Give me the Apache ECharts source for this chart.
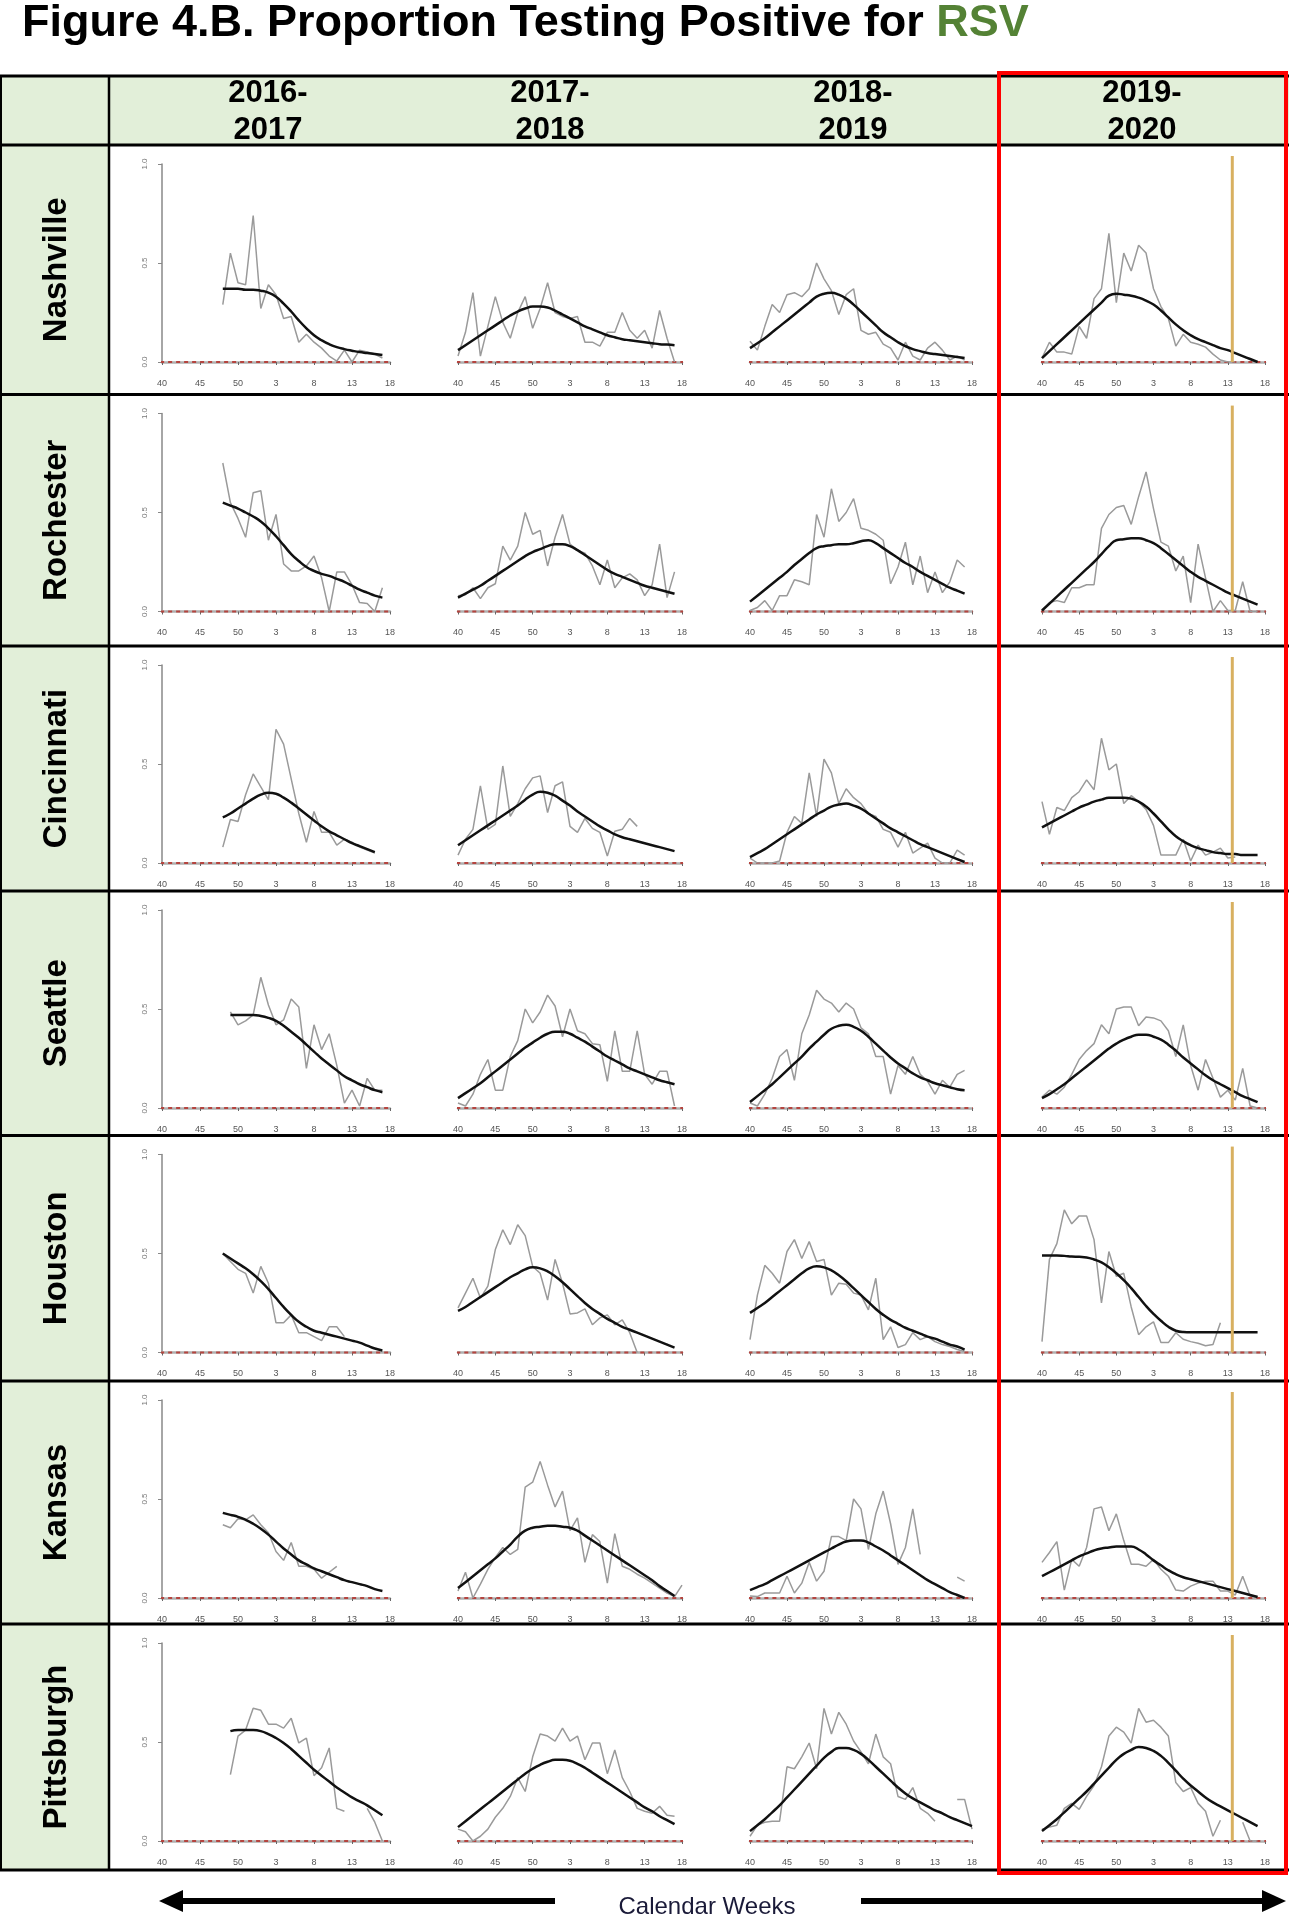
<!DOCTYPE html>
<html><head><meta charset="utf-8">
<script src="https://cdn.jsdelivr.net/npm/echarts@6/dist/echarts.min.js"></script>
<style>html,body{margin:0;padding:0;background:#fff}#c{width:1289px;height:1920px}</style>
</head><body><div id="c"></div>
<script>
// ---------- labels ----------
const weekLabels = ['40','45','50','3','8','13','18'];
const seasonStart = ['2016-','2017-','2018-','2019-'];
const seasonEnd = ['2017','2018','2019','2020'];
const sites = ['Nashville','Rochester','Cincinnati','Seattle','Houston','Kansas','Pittsburgh'];
const cutoffIndex = 25.6; // vertical marker in 2019-2020 season (week index)

// ---------- data: [startWeekIndex, values] per season ----------
const nashvilleRaw = [
  [8,[0.29,0.55,0.40,0.39,0.74,0.27,0.39,0.34,0.22,0.23,0.10,0.14,0.10,0.07,0.03,0.005,0.06,0.0,0.06,0.05,0.04,0.02]],
  [0,[0.03,0.15,0.35,0.03,0.18,0.33,0.20,0.12,0.25,0.33,0.17,0.27,0.40,0.25,0.23,0.22,0.23,0.10,0.10,0.08,0.15,0.15,0.25,0.16,0.12,0.16,0.07,0.26,0.12,0.0]],
  [0,[0.105,0.06,0.18,0.29,0.25,0.34,0.35,0.33,0.37,0.50,0.42,0.36,0.24,0.34,0.37,0.16,0.14,0.15,0.09,0.07,0.01,0.10,0.03,0.01,0.07,0.10,0.06,0.01,0.03,0.01]],
  [0,[0.02,0.10,0.05,0.05,0.04,0.18,0.12,0.32,0.37,0.65,0.30,0.55,0.46,0.59,0.55,0.37,0.28,0.22,0.08,0.14,0.10,0.09,0.075,0.04,0.01,0.0,0.0]]
];
const nashvilleFit = [
  [8,[0.37,0.37,0.37,0.365,0.365,0.36,0.35,0.33,0.295,0.255,0.21,0.17,0.135,0.11,0.09,0.075,0.065,0.057,0.05,0.045,0.04,0.035]],
  [0,[0.06,0.085,0.11,0.135,0.16,0.185,0.21,0.235,0.255,0.27,0.28,0.28,0.275,0.26,0.24,0.22,0.20,0.18,0.165,0.15,0.135,0.125,0.115,0.11,0.105,0.10,0.095,0.09,0.088,0.085]],
  [0,[0.07,0.095,0.12,0.15,0.18,0.21,0.24,0.27,0.30,0.33,0.345,0.35,0.34,0.32,0.29,0.255,0.22,0.185,0.15,0.125,0.10,0.08,0.065,0.055,0.045,0.04,0.035,0.03,0.025,0.02]],
  [0,[0.02,0.055,0.09,0.125,0.16,0.195,0.23,0.265,0.30,0.335,0.345,0.34,0.335,0.325,0.31,0.29,0.26,0.225,0.19,0.16,0.135,0.115,0.10,0.085,0.07,0.06,0.045,0.03,0.015,0.0]]
];
const rochesterRaw = [
  [8,[0.75,0.55,0.47,0.375,0.60,0.61,0.36,0.49,0.24,0.205,0.205,0.23,0.28,0.17,0.0,0.20,0.20,0.135,0.045,0.04,0.0,0.12]],
  [0,[0.08,0.085,0.12,0.065,0.12,0.14,0.33,0.26,0.33,0.50,0.39,0.41,0.23,0.375,0.49,0.34,0.31,0.295,0.23,0.135,0.26,0.12,0.17,0.19,0.16,0.08,0.135,0.34,0.07,0.20]],
  [0,[0.005,0.02,0.055,0.005,0.08,0.08,0.16,0.15,0.135,0.49,0.375,0.62,0.455,0.50,0.57,0.42,0.41,0.39,0.36,0.14,0.225,0.35,0.135,0.28,0.095,0.20,0.095,0.15,0.26,0.225]],
  [0,[0.005,0.045,0.055,0.045,0.12,0.12,0.135,0.135,0.42,0.49,0.525,0.535,0.44,0.58,0.705,0.52,0.35,0.33,0.205,0.28,0.045,0.34,0.17,0.0,0.055,0.005,0.005,0.15,0.0,0.0]]
];
const rochesterFit = [
  [8,[0.55,0.535,0.52,0.50,0.48,0.455,0.42,0.38,0.335,0.29,0.255,0.225,0.205,0.19,0.18,0.165,0.15,0.13,0.11,0.095,0.08,0.07]],
  [0,[0.07,0.09,0.11,0.13,0.155,0.18,0.205,0.23,0.255,0.28,0.30,0.315,0.33,0.34,0.34,0.33,0.31,0.285,0.26,0.235,0.21,0.19,0.175,0.16,0.145,0.13,0.12,0.11,0.10,0.09]],
  [0,[0.05,0.08,0.11,0.14,0.17,0.20,0.235,0.265,0.295,0.32,0.33,0.335,0.34,0.34,0.345,0.355,0.36,0.345,0.32,0.295,0.27,0.245,0.225,0.20,0.18,0.16,0.14,0.12,0.105,0.09]],
  [0,[0.005,0.04,0.075,0.11,0.145,0.18,0.215,0.25,0.29,0.33,0.36,0.365,0.37,0.37,0.36,0.345,0.32,0.29,0.26,0.23,0.20,0.175,0.155,0.135,0.115,0.095,0.08,0.065,0.05,0.035]]
];
const cincinnatiRaw = [
  [8,[0.08,0.22,0.21,0.345,0.45,0.385,0.32,0.675,0.60,0.425,0.25,0.105,0.26,0.155,0.155,0.09,0.12,0.105,0.08,0.065,0.05]],
  [0,[0.04,0.12,0.17,0.39,0.17,0.195,0.49,0.235,0.30,0.375,0.43,0.44,0.255,0.39,0.41,0.185,0.155,0.225,0.175,0.155,0.035,0.16,0.17,0.225,0.185]],
  [0,[0.025,0.0,0.0,0.0,0.01,0.155,0.235,0.20,0.455,0.235,0.525,0.455,0.30,0.375,0.33,0.30,0.25,0.235,0.17,0.155,0.08,0.155,0.05,0.075,0.10,0.025,0.0,0.0,0.065,0.04]],
  [0,[0.31,0.145,0.28,0.265,0.33,0.36,0.42,0.37,0.63,0.47,0.50,0.30,0.34,0.31,0.27,0.19,0.04,0.04,0.04,0.12,0.01,0.09,0.04,0.055,0.075,0.025,0.03]]
];
const cincinnatiFit = [
  [8,[0.23,0.25,0.275,0.30,0.325,0.345,0.355,0.35,0.33,0.305,0.275,0.245,0.215,0.185,0.16,0.14,0.12,0.10,0.085,0.07,0.055]],
  [0,[0.09,0.115,0.14,0.165,0.19,0.215,0.24,0.265,0.29,0.32,0.345,0.36,0.355,0.34,0.315,0.29,0.26,0.235,0.21,0.185,0.165,0.145,0.13,0.12,0.11,0.10,0.09,0.08,0.07,0.06]],
  [0,[0.03,0.05,0.07,0.095,0.12,0.145,0.17,0.195,0.22,0.245,0.265,0.285,0.295,0.30,0.29,0.275,0.25,0.225,0.20,0.175,0.155,0.135,0.115,0.095,0.08,0.065,0.05,0.035,0.02,0.005]],
  [0,[0.18,0.20,0.22,0.24,0.26,0.28,0.295,0.31,0.32,0.33,0.33,0.33,0.325,0.31,0.285,0.25,0.21,0.17,0.135,0.11,0.09,0.075,0.065,0.055,0.05,0.045,0.045,0.04,0.04,0.04]]
];
const seattleRaw = [
  [9,[0.485,0.42,0.44,0.47,0.66,0.52,0.42,0.445,0.55,0.51,0.20,0.42,0.295,0.375,0.215,0.025,0.09,0.01,0.15,0.09,0.09]],
  [0,[0.025,0.01,0.07,0.17,0.245,0.09,0.09,0.26,0.34,0.50,0.43,0.485,0.57,0.515,0.36,0.50,0.39,0.375,0.325,0.32,0.135,0.39,0.185,0.185,0.39,0.17,0.12,0.185,0.185,0.01]],
  [0,[0.025,0.01,0.07,0.15,0.26,0.295,0.14,0.375,0.47,0.595,0.55,0.53,0.485,0.53,0.50,0.405,0.375,0.26,0.26,0.07,0.215,0.17,0.26,0.17,0.135,0.07,0.14,0.105,0.17,0.19]],
  [0,[0.055,0.09,0.07,0.105,0.17,0.245,0.29,0.325,0.42,0.375,0.50,0.51,0.51,0.415,0.46,0.455,0.44,0.39,0.26,0.42,0.215,0.09,0.245,0.15,0.055,0.09,0.04,0.20,0.01,0.0]]
];
const seattleFit = [
  [9,[0.47,0.47,0.47,0.47,0.465,0.455,0.44,0.415,0.385,0.355,0.32,0.285,0.25,0.22,0.19,0.16,0.14,0.12,0.105,0.09,0.08]],
  [0,[0.05,0.075,0.10,0.125,0.155,0.185,0.215,0.245,0.275,0.305,0.33,0.355,0.375,0.385,0.385,0.375,0.355,0.335,0.31,0.285,0.26,0.24,0.22,0.20,0.185,0.17,0.155,0.14,0.13,0.12]],
  [0,[0.03,0.06,0.09,0.12,0.155,0.19,0.225,0.26,0.30,0.335,0.37,0.40,0.415,0.42,0.41,0.39,0.36,0.325,0.29,0.255,0.225,0.20,0.175,0.155,0.14,0.125,0.115,0.105,0.095,0.09]],
  [0,[0.05,0.07,0.095,0.12,0.15,0.18,0.21,0.24,0.27,0.30,0.325,0.345,0.36,0.37,0.37,0.36,0.345,0.32,0.29,0.255,0.225,0.195,0.165,0.14,0.12,0.10,0.08,0.06,0.045,0.03]]
];
const houstonRaw = [
  [8,[0.50,0.46,0.42,0.40,0.30,0.435,0.35,0.15,0.15,0.19,0.10,0.10,0.08,0.06,0.13,0.13,0.08]],
  [0,[0.225,0.30,0.375,0.275,0.335,0.52,0.62,0.545,0.645,0.59,0.435,0.40,0.265,0.47,0.35,0.195,0.20,0.22,0.14,0.175,0.19,0.14,0.165,0.10,0.0]],
  [0,[0.065,0.29,0.44,0.40,0.35,0.51,0.57,0.475,0.56,0.46,0.47,0.29,0.35,0.345,0.30,0.29,0.215,0.375,0.065,0.13,0.025,0.04,0.10,0.065,0.08,0.055,0.04,0.03,0.015,0.005]],
  [0,[0.055,0.47,0.55,0.72,0.65,0.69,0.69,0.57,0.25,0.51,0.385,0.40,0.23,0.09,0.13,0.155,0.05,0.05,0.10,0.067,0.055,0.047,0.034,0.04,0.15]]
];
const houstonFit = [
  [8,[0.50,0.475,0.45,0.425,0.395,0.36,0.32,0.275,0.23,0.19,0.155,0.13,0.11,0.10,0.09,0.08,0.07,0.06,0.05,0.035,0.02,0.01]],
  [0,[0.21,0.23,0.255,0.28,0.305,0.33,0.355,0.38,0.40,0.42,0.43,0.425,0.41,0.385,0.355,0.32,0.285,0.25,0.22,0.195,0.17,0.15,0.13,0.115,0.10,0.085,0.07,0.055,0.04,0.025]],
  [0,[0.20,0.225,0.25,0.28,0.31,0.34,0.37,0.40,0.425,0.435,0.43,0.415,0.39,0.36,0.325,0.29,0.255,0.22,0.19,0.165,0.145,0.125,0.11,0.095,0.08,0.07,0.055,0.04,0.03,0.015]],
  [0,[0.49,0.49,0.49,0.488,0.485,0.483,0.48,0.47,0.455,0.43,0.40,0.365,0.325,0.28,0.235,0.195,0.16,0.13,0.11,0.103,0.102,0.102,0.102,0.102,0.102,0.102,0.102,0.102,0.102,0.102]]
];
const kansasRaw = [
  [8,[0.37,0.355,0.40,0.395,0.42,0.37,0.33,0.235,0.19,0.28,0.16,0.16,0.145,0.10,0.13,0.16]],
  [0,[0.035,0.13,0.0,0.07,0.145,0.205,0.255,0.22,0.245,0.56,0.585,0.69,0.57,0.46,0.54,0.34,0.405,0.18,0.32,0.285,0.075,0.325,0.16,0.145,0.12,0.10,0.075,0.05,0.025,0.007,0.065]],
  [0,[0.01,0.007,0.025,0.025,0.025,0.11,0.025,0.075,0.18,0.085,0.135,0.31,0.31,0.29,0.50,0.45,0.245,0.425,0.54,0.375,0.17,0.255,0.45,0.22,null,null,null,null,0.105,0.085]],
  [0,[0.18,0.23,0.285,0.04,0.195,0.16,0.255,0.45,0.46,0.34,0.425,0.29,0.17,0.17,0.16,0.195,0.145,0.11,0.04,0.035,0.06,0.075,0.085,0.085,0.035,0.035,0.015,0.11,0.01,0.007]]
];
const kansasFit = [
  [8,[0.43,0.42,0.41,0.395,0.375,0.35,0.32,0.285,0.25,0.22,0.19,0.17,0.15,0.135,0.12,0.105,0.09,0.08,0.07,0.06,0.045,0.035]],
  [0,[0.05,0.08,0.11,0.14,0.17,0.20,0.235,0.27,0.31,0.34,0.355,0.36,0.365,0.365,0.36,0.355,0.34,0.315,0.29,0.265,0.24,0.215,0.19,0.165,0.14,0.115,0.09,0.06,0.035,0.01]],
  [0,[0.04,0.055,0.07,0.09,0.11,0.13,0.15,0.17,0.19,0.21,0.23,0.25,0.27,0.285,0.29,0.29,0.28,0.26,0.24,0.215,0.19,0.165,0.14,0.115,0.09,0.07,0.05,0.03,0.015,0.0]],
  [0,[0.11,0.13,0.15,0.17,0.19,0.21,0.225,0.24,0.25,0.255,0.26,0.26,0.26,0.245,0.22,0.19,0.165,0.14,0.12,0.105,0.095,0.085,0.075,0.065,0.055,0.045,0.035,0.025,0.015,0.005]]
];
const pittsburghRaw = [
  [9,[0.335,0.53,0.56,0.67,0.66,0.59,0.59,0.57,0.62,0.495,0.52,0.33,0.37,0.47,0.165,0.15,null,null,0.165,0.095,0.0]],
  [0,[0.06,0.047,0.0,0.024,0.06,0.12,0.165,0.225,0.32,0.25,0.425,0.54,0.53,0.505,0.57,0.505,0.53,0.41,0.495,0.495,0.34,0.46,0.32,0.25,0.165,0.15,0.14,0.175,0.13,0.125]],
  [0,[0.024,0.08,0.095,0.10,0.10,0.375,0.365,0.425,0.495,0.365,0.67,0.54,0.65,0.59,0.505,0.45,0.39,0.54,0.425,0.39,0.225,0.21,0.27,0.165,0.14,0.10,null,null,0.21,0.21,0.06]],
  [0,[0.06,0.07,0.08,0.165,0.19,0.16,0.225,0.28,0.375,0.53,0.575,0.55,0.495,0.67,0.60,0.61,0.575,0.53,0.295,0.25,0.27,0.19,0.15,0.024,0.105,null,null,0.095,0.0,0.0]]
];
const pittsburghFit = [
  [9,[0.555,0.56,0.56,0.56,0.555,0.54,0.52,0.495,0.465,0.43,0.395,0.36,0.33,0.30,0.27,0.245,0.22,0.20,0.18,0.155,0.13]],
  [0,[0.07,0.10,0.13,0.16,0.19,0.22,0.25,0.28,0.31,0.34,0.365,0.385,0.40,0.41,0.41,0.405,0.39,0.37,0.345,0.32,0.295,0.27,0.245,0.22,0.195,0.17,0.15,0.125,0.105,0.085]],
  [0,[0.05,0.08,0.11,0.145,0.18,0.22,0.26,0.30,0.34,0.38,0.42,0.45,0.47,0.47,0.46,0.44,0.41,0.375,0.34,0.305,0.27,0.24,0.215,0.195,0.175,0.155,0.14,0.12,0.105,0.09,0.075]],
  [0,[0.05,0.08,0.11,0.145,0.18,0.215,0.25,0.29,0.33,0.37,0.41,0.44,0.46,0.475,0.47,0.455,0.43,0.395,0.355,0.315,0.28,0.25,0.22,0.195,0.175,0.155,0.135,0.115,0.095,0.075]]
];
const rawBySite = [nashvilleRaw, rochesterRaw, cincinnatiRaw, seattleRaw, houstonRaw, kansasRaw, pittsburghRaw];
const fitBySite = [nashvilleFit, rochesterFit, cincinnatiFit, seattleFit, houstonFit, kansasFit, pittsburghFit];

// ---------- layout ----------
const W = 1289;
const tableTop = 76, headerBottom = 145, tableBottom = 1870, leftColW = 109;
const rowTops = [145, 394.5, 646, 891, 1135.5, 1381, 1624];
const colLeft = [162, 458, 750, 1042];
const colRight = [390, 682, 972, 1265];
const colCenter = [268, 550, 853, 1142];
const FONT = '"Liberation Sans", Arial, Helvetica, sans-serif';

const toData = e => e[1].map((v, i) => [e[0] + i, v]);

const grid = [], xAxis = [], yAxis = [], series = [];
for (let r = 0; r < sites.length; r++) {
  for (let c = 0; c < 4; c++) {
    const k = r * 4 + c;
    grid.push({left: colLeft[c], width: colRight[c] - colLeft[c], top: rowTops[r] + 19, height: 198});
    xAxis.push({
      type: 'value', gridIndex: k, min: 0, max: 30, interval: 5, offset: 11,
      axisLine: {show: true, lineStyle: {color: '#b0b0b0', width: 2.5}},
      axisTick: {show: true, length: 3, lineStyle: {color: '#666'}},
      axisLabel: {show: true, margin: 6, fontSize: 9, color: '#555', fontFamily: FONT,
        formatter: v => weekLabels[Math.round(v / 5)]},
      splitLine: {show: false}
    });
    yAxis.push({
      type: 'value', gridIndex: k, min: 0, max: 1, interval: 0.5, show: c === 0, offset: 8,
      axisLine: {show: true, lineStyle: {color: '#888', width: 1.5}},
      axisTick: {show: true, length: 4, lineStyle: {color: '#888'}},
      axisLabel: {show: true, rotate: 90, fontSize: 8, color: '#777', margin: 5, fontFamily: FONT,
        formatter: v => v.toFixed(1)},
      splitLine: {show: false}
    });
    // zero reference line
    series.push({type: 'line', xAxisIndex: k, yAxisIndex: k, data: [[-1.3, 0], [30.7, 0]],
      symbol: 'none', clip: false, silent: true, z: 1,
      lineStyle: {color: '#b5443f', width: 2, type: [4, 4]}});
    series.push({type: 'line', xAxisIndex: k, yAxisIndex: k, data: toData(rawBySite[r][c]),
      symbol: 'none', connectNulls: false, z: 2,
      lineStyle: {color: '#9a9a9a', width: 1.5}});
    series.push({type: 'line', xAxisIndex: k, yAxisIndex: k, data: toData(fitBySite[r][c]),
      symbol: 'none', smooth: true, z: 3,
      lineStyle: {color: '#111', width: 2.5}});
    if (c === 3) {
      series.push({type: 'line', xAxisIndex: k, yAxisIndex: k, data: [[cutoffIndex, 0], [cutoffIndex, 1.04]],
        symbol: 'none', clip: false, z: 4,
        lineStyle: {color: '#d8b060', width: 3}});
    }
  }
}

// ---------- table graphics ----------
const green = '#e2efd9';
const graphic = [];
graphic.push({type: 'rect', z: -10, shape: {x: 0, y: tableTop, width: W, height: headerBottom - tableTop}, style: {fill: green}});
graphic.push({type: 'rect', z: -10, shape: {x: 0, y: headerBottom, width: leftColW, height: tableBottom - headerBottom}, style: {fill: green}});
const hLines = [tableTop, ...rowTops, tableBottom];
hLines.forEach(y => graphic.push({type: 'line', z: 50, shape: {x1: 0, y1: y, x2: W, y2: y}, style: {stroke: '#000', lineWidth: 3}}));
graphic.push({type: 'line', z: 50, shape: {x1: leftColW, y1: tableTop, x2: leftColW, y2: tableBottom}, style: {stroke: '#000', lineWidth: 2.5}});
graphic.push({type: 'line', z: 50, shape: {x1: 1, y1: tableTop, x2: 1, y2: tableBottom}, style: {stroke: '#000', lineWidth: 2}});
graphic.push({type: 'rect', z: 60, shape: {x: 999, y: 73, width: 287, height: 1800}, style: {fill: 'none', stroke: '#ff0000', lineWidth: 4}});
for (let c = 0; c < 4; c++) {
  graphic.push({type: 'text', z: 55, x: colCenter[c], y: 112,
    style: {text: seasonStart[c] + '\n' + seasonEnd[c], fontSize: 31, fontWeight: 'bold', fontFamily: FONT,
      fill: '#000', textAlign: 'center', verticalAlign: 'middle', lineHeight: 37}});
}
for (let r = 0; r < sites.length; r++) {
  const yc = (rowTops[r] + (r + 1 < rowTops.length ? rowTops[r + 1] : tableBottom)) / 2;
  graphic.push({type: 'text', z: 55, x: 57, y: yc, rotation: Math.PI / 2,
    style: {text: sites[r], fontSize: 33, fontWeight: 'bold', fontFamily: FONT, fill: '#000',
      textAlign: 'center', verticalAlign: 'middle'}});
}
// bottom arrows + label
const ay = 1901;
graphic.push({type: 'line', shape: {x1: 555, y1: ay, x2: 178, y2: ay}, style: {stroke: '#000', lineWidth: 6}});
graphic.push({type: 'polygon', shape: {points: [[159, ay], [183, ay - 11], [183, ay + 11]]}, style: {fill: '#000'}});
graphic.push({type: 'line', shape: {x1: 861, y1: ay, x2: 1266, y2: ay}, style: {stroke: '#000', lineWidth: 6}});
graphic.push({type: 'polygon', shape: {points: [[1286, ay], [1262, ay - 11], [1262, ay + 11]]}, style: {fill: '#000'}});
graphic.push({type: 'text', x: 707, y: 1907,
  style: {text: 'Calendar Weeks', fontSize: 24, fontFamily: FONT, fill: '#1a1a38', textAlign: 'center', verticalAlign: 'middle'}});

const chart = echarts.init(document.getElementById('c'), null, {renderer: 'canvas'});
chart.setOption({
  animation: false,
  backgroundColor: '#fff',
  title: {
    text: '{a|Figure 4.B. Proportion Testing Positive for }{b|RSV}',
    left: 22, top: 0, padding: 0,
    textStyle: {rich: {
      a: {fontSize: 45, fontWeight: 'bold', fontFamily: FONT, color: '#000', lineHeight: 48},
      b: {fontSize: 45, fontWeight: 'bold', fontFamily: FONT, color: '#548235', lineHeight: 48}
    }}
  },
  grid, xAxis, yAxis, series, graphic
});
</script>
</body></html>
